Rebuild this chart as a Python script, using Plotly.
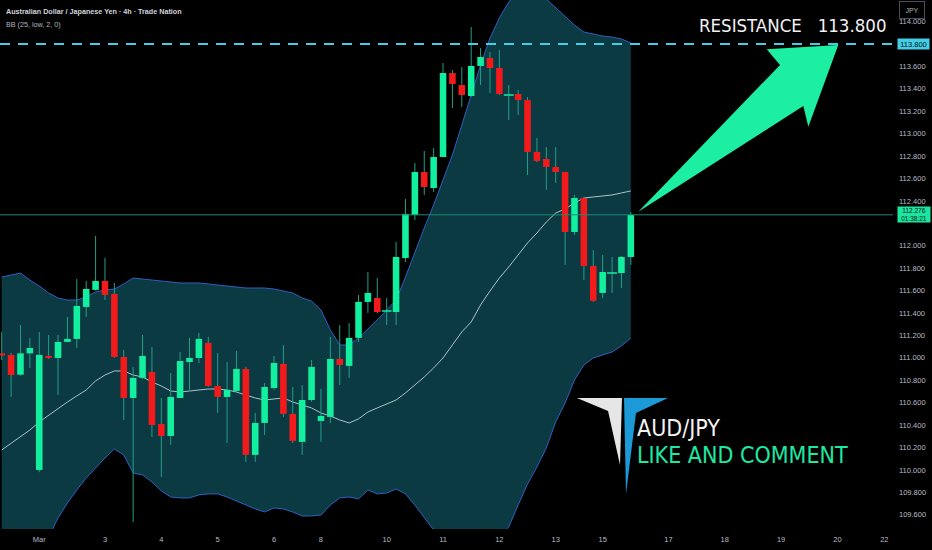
import plotly.graph_objects as go

# ---------------- data ----------------
bar_index = list(range(68))

opens = [111.04, 111.026, 110.85, 111.04, 110.00, 111.017, 110.999, 111.142, 111.169, 111.454,
         111.606, 111.686, 111.57, 111.008, 110.642, 110.821, 110.874, 110.41, 110.303, 110.642,
         110.963, 110.999, 111.133, 110.749, 110.651, 110.705, 110.901, 110.134, 110.419, 110.731,
         110.946, 110.50, 110.25, 110.624, 110.437, 110.473, 110.99, 110.928, 111.178, 111.499,
         111.534, 111.418, 111.409, 111.891, 112.275, 112.658, 112.515, 112.792, 113.541, 113.434,
         113.336, 113.604, 113.675, 113.586, 113.345, 113.354, 113.30, 112.837, 112.774, 112.703,
         112.658, 112.123, 112.426, 111.82, 111.579, 111.757, 111.757, 111.90]
highs = [111.23, 111.044, 111.293, 111.178, 111.23, 111.204, 111.204, 111.365, 111.704, 111.686,
         112.087, 111.891, 111.668, 111.07, 110.919, 111.204, 111.097, 110.642, 110.865, 111.053,
         111.178, 111.222, 111.187, 111.044, 110.963, 111.062, 110.92, 110.509, 110.776, 111.017,
         111.115, 110.74, 110.758, 110.981, 110.723, 111.187, 111.293, 111.311, 111.561, 111.766,
         111.713, 111.534, 112.034, 112.417, 112.739, 112.846, 112.872, 113.63, 113.568, 113.595,
         113.952, 113.764, 113.729, 113.746, 113.434, 113.39, 113.327, 112.962, 112.881, 112.881,
         112.66, 112.453, 112.435, 111.962, 111.918, 111.90, 111.91, 112.301]
lows = [110.98, 110.651, 110.84, 110.91, 109.98, 110.99, 110.669, 111.14, 111.088, 111.365,
        111.60, 111.516, 111.00, 110.446, 109.536, 110.81, 110.294, 109.938, 110.223, 110.64,
        110.714, 110.954, 110.74, 110.509, 110.241, 110.69, 110.071, 110.071, 110.312, 110.714,
        110.473, 110.24, 110.134, 110.61, 110.25, 110.419, 110.758, 110.821, 111.142, 111.401,
        111.40, 111.293, 111.293, 111.855, 112.23, 112.453, 112.48, 112.79, 113.229, 113.238,
        113.33, 113.434, 113.363, 113.345, 113.122, 113.167, 112.631, 112.747, 112.498, 112.56,
        111.829, 112.096, 111.695, 111.499, 111.534, 111.579, 111.624, 111.829]
closes = [111.02, 110.847, 111.04, 111.088, 111.026, 111.004, 111.142, 111.169, 111.463, 111.615,
          111.686, 111.561, 111.008, 110.642, 110.821, 111.017, 110.401, 110.303, 110.651, 110.972,
          110.999, 111.169, 110.749, 110.651, 110.714, 110.901, 110.134, 110.419, 110.74, 110.954,
          110.50, 110.259, 110.624, 110.919, 110.482, 110.99, 110.937, 111.178, 111.499, 111.579,
          111.409, 111.418, 111.90, 112.284, 112.658, 112.524, 112.792, 113.541, 113.443, 113.345,
          113.604, 113.684, 113.586, 113.354, 113.345, 113.30, 112.837, 112.756, 112.703, 112.658,
          112.123, 112.426, 111.82, 111.508, 111.766, 111.757, 111.90, 112.276]

bb_upper = [111.721, 111.739, 111.757, 111.694, 111.641, 111.579, 111.534, 111.516, 111.516, 111.543,
            111.588, 111.605, 111.614, 111.659, 111.712, 111.703, 111.694, 111.686, 111.677, 111.668,
            111.668, 111.668, 111.659, 111.650, 111.641, 111.632, 111.623, 111.623, 111.623, 111.614,
            111.596, 111.579, 111.534, 111.507, 111.427, 111.249, 111.115, 111.115, 111.177, 111.257,
            111.338, 111.427, 111.516, 111.721, 111.944, 112.158, 112.364, 112.587, 112.810, 113.077,
            113.345, 113.613, 113.853, 114.032, 114.175, 114.264, 114.282, 114.264, 114.201, 114.121,
            114.041, 113.969, 113.907, 113.889, 113.871, 113.862, 113.845, 113.809]
bb_mid = [110.178, 110.240, 110.294, 110.356, 110.428, 110.490, 110.544, 110.606, 110.660, 110.713,
          110.794, 110.847, 110.883, 110.883, 110.847, 110.829, 110.785, 110.749, 110.704, 110.695,
          110.704, 110.713, 110.722, 110.722, 110.713, 110.695, 110.669, 110.642, 110.624, 110.633,
          110.642, 110.606, 110.580, 110.553, 110.508, 110.481, 110.446, 110.419, 110.455, 110.517,
          110.553, 110.588, 110.624, 110.687, 110.758, 110.829, 110.910, 110.999, 111.115, 111.231,
          111.320, 111.472, 111.596, 111.712, 111.811, 111.918, 112.025, 112.114, 112.212, 112.292,
          112.328, 112.381, 112.426, 112.435, 112.444, 112.453, 112.471, 112.489]
bb_lower = [108.661, 108.751, 108.840, 109.018, 109.215, 109.402, 109.571, 109.705, 109.821, 109.928,
            110.017, 110.107, 110.187, 110.133, 109.973, 109.955, 109.893, 109.812, 109.759, 109.750,
            109.750, 109.777, 109.786, 109.786, 109.759, 109.723, 109.687, 109.652, 109.625, 109.661,
            109.652, 109.625, 109.589, 109.589, 109.598, 109.687, 109.750, 109.759, 109.741, 109.821,
            109.786, 109.794, 109.830, 109.786, 109.687, 109.580, 109.464, 109.375, 109.357, 109.330,
            109.304, 109.304, 109.330, 109.402, 109.491, 109.687, 109.875, 110.026, 110.196, 110.428,
            110.597, 110.802, 110.936, 110.999, 111.025, 111.052, 111.106, 111.177]

x_tick_pos = [4, 11, 17, 23, 29, 34, 41, 47, 53, 59, 64, 71, 77, 83, 89, 94]
x_tick_text = ["Mar", "3", "4", "5", "6", "8", "10", "11", "12", "13", "15", "17", "18", "19", "20", "22"]
# 113.800 and 112.200 are covered by the price labels in the reference
price_ticks = [109.6, 109.8, 110.0, 110.2, 110.4, 110.6, 110.8, 111.0, 111.2, 111.4, 111.6, 111.8,
               112.0, 112.4, 112.6, 112.8, 113.0, 113.2, 113.4, 113.6, 114.0]
resistance = 113.800
last_price = closes[-1]
countdown = "01:38:21"
title_text = "Australian Dollar / Japanese Yen · 4h · Trade Nation"
indicator_text = "BB (25, low, 2, 0)"

# ---------------- styling ----------------
GREEN = "#12ef9f"
RED = "#f21a1a"
WICK = "#239f88"
BAND_FILL = "#0b3a42"
BAND_LINE = "#2f5fc0"
MID_LINE = "#a9c3c6"
ARROW = "#1cefa2"
CYAN = "#43cde6"
SMALL = "Liberation Sans, Arial, sans-serif"
COND = "DejaVu Sans Condensed, DejaVu Sans, sans-serif"

X_RANGE = [-0.18, 94.92]
Y_RANGE = [109.473, 114.1925]
PW, PH = 893.0, 529.0  # plot area size in px (for decoration placement)


def px(xp, yp):
    return xp / PW, 1 - yp / PH


fig = go.Figure()

# Bollinger bands (base subplot, drawn below the candles)
fig.add_trace(go.Scatter(x=bar_index, y=bb_lower, mode="lines",
                         line=dict(color=BAND_LINE, width=1), hoverinfo="skip"))
fig.add_trace(go.Scatter(x=bar_index, y=bb_upper, mode="lines", fill="tonexty",
                         fillcolor=BAND_FILL, line=dict(color=BAND_LINE, width=1), hoverinfo="skip"))
fig.add_trace(go.Scatter(x=bar_index, y=bb_mid, mode="lines",
                         line=dict(color=MID_LINE, width=1), hoverinfo="skip"))

# wicks (overlay subplot 2)
wx, wy = [], []
for i in bar_index:
    wx += [i, i, None]
    wy += [lows[i], highs[i], None]
fig.add_trace(go.Scatter(x=wx, y=wy, mode="lines", yaxis="y2",
                         line=dict(color=WICK, width=1), hoverinfo="skip"))

# bodies (overlay subplot 3)
bases = [min(o, c) for o, c in zip(opens, closes)]
sizes = [abs(c - o) for o, c in zip(opens, closes)]
colors = [GREEN if c >= o else RED for o, c in zip(opens, closes)]
fig.add_trace(go.Bar(x=bar_index, y=sizes, base=bases, width=0.7, yaxis="y3",
                     marker=dict(color=colors, line=dict(width=0)), hoverinfo="skip"))
doji_x = [i for i in bar_index if abs(closes[i] - opens[i]) < 0.002]
doji_y = [opens[i] for i in doji_x]
fig.add_trace(go.Scatter(x=doji_x, y=doji_y, mode="markers", yaxis="y3",
                         marker=dict(symbol="line-ew", size=7, line=dict(width=1.5, color=GREEN)),
                         hoverinfo="skip"))

# ---------------- shapes ----------------
shapes = []
shapes.append(dict(type="line", xref="paper", yref="y", x0=0, x1=1, y0=last_price, y1=last_price,
                   line=dict(color="#1d8a78", width=1), layer="above"))
shapes.append(dict(type="line", xref="paper", yref="y", x0=0, x1=1.004, y0=resistance, y1=resistance,
                   line=dict(color=CYAN, width=2, dash="10px,8px"), layer="above"))


def poly(points):
    parts = []
    for k, (a, b) in enumerate(points):
        xa, yb = px(a, b)
        parts.append(("M" if k == 0 else "L") + f"{xa:.4f},{yb:.4f}")
    return " ".join(parts) + " Z"


arrow_pts = [(638.3, 211.7), (780.0, 65.0), (766.7, 49.3), (838.3, 45.0), (808.3, 126.7), (803.3, 106.0)]
shapes.append(dict(type="path", xref="paper", yref="paper", path=poly(arrow_pts),
                   fillcolor=ARROW, line=dict(width=0), layer="above"))
logo_white = [(577, 398), (622, 398), (620, 465), (608, 411)]
logo_blue = [(624, 398), (668, 398), (636, 413), (626, 494)]
shapes.append(dict(type="path", xref="paper", yref="paper", path=poly(logo_white),
                   fillcolor="#e6e6e6", line=dict(width=0), layer="above"))
shapes.append(dict(type="path", xref="paper", yref="paper", path=poly(logo_blue),
                   fillcolor="#1c9ad8", line=dict(width=0), layer="above"))

# ---------------- annotations ----------------
ann = []
ann.append(dict(xref="paper", yref="paper", x=px(4, 0)[0], y=px(0, 12)[1], xanchor="left", yanchor="middle",
                text=f"<b>{title_text}</b>", showarrow=False,
                font=dict(family=SMALL, size=7.2, color="#d1d4dc")))
ann.append(dict(xref="paper", yref="paper", x=px(4, 0)[0], y=px(0, 24.5)[1], xanchor="left", yanchor="middle",
                text=indicator_text, showarrow=False,
                font=dict(family=SMALL, size=7.2, color="#b2b5be")))
ann.append(dict(xref="paper", yref="paper", x=px(888, 0)[0], y=px(0, 25)[1], xanchor="right", yanchor="middle",
                text="RESISTANCE   113.800", showarrow=False,
                font=dict(family=COND, size=18.5, color="#f2f2f2")))
ann.append(dict(xref="paper", yref="paper", x=px(635, 0)[0], y=px(0, 428)[1], xanchor="left", yanchor="middle",
                text="AUD/JPY", showarrow=False,
                font=dict(family=COND, size=23, color="#f2f2f2")))
ann.append(dict(xref="paper", yref="paper", x=px(635, 0)[0], y=px(0, 455)[1], xanchor="left", yanchor="middle",
                text="LIKE AND COMMENT", showarrow=False,
                font=dict(family=COND, size=23, color="#1de9a0")))
# price-axis labels
ann.append(dict(xref="paper", yref="y", x=1, xshift=4, y=resistance, xanchor="left", yanchor="middle",
                text=f"{resistance:.3f}", showarrow=False, bgcolor=CYAN, width=31, height=10, borderpad=0,
                font=dict(family=SMALL, size=7.5, color="#061014")))
ann.append(dict(xref="paper", yref="y", x=1, xshift=4, y=last_price, xanchor="left", yanchor="middle",
                text=f"{last_price:.3f}<br>{countdown}", showarrow=False, bgcolor="#1ae6a0", width=32, height=15,
                borderpad=0, font=dict(family=SMALL, size=6.5, color="#061410")))
ann.append(dict(xref="paper", yref="paper", x=899 / PW, y=1 - 1 / PH, xanchor="left", yanchor="top",
                text="JPY", showarrow=False, bgcolor="#000000", bordercolor="#4a4e5a", borderwidth=1,
                width=24, height=16, borderpad=0, font=dict(family=SMALL, size=7, color="#b2b5be")))

fig.update_layout(
    width=932, height=550,
    margin=dict(l=0, r=39, t=0, b=21),
    paper_bgcolor="#000000", plot_bgcolor="#000000",
    showlegend=False, hovermode=False,
    shapes=shapes, annotations=ann,
    xaxis=dict(range=X_RANGE, tickmode="array", tickvals=x_tick_pos, ticktext=x_tick_text,
               showgrid=False, zeroline=False, showline=False, ticks="", ticklabelstandoff=4,
               tickfont=dict(family=SMALL, size=7.5, color="#b8bcc6"), fixedrange=True),
    yaxis=dict(range=Y_RANGE, side="right", tickmode="array", tickvals=price_ticks, tickformat=".3f",
               showgrid=False, zeroline=False, showline=False, ticks="", ticklabelstandoff=5,
               tickfont=dict(family=SMALL, size=7.5, color="#b8bcc6"), fixedrange=True),
    yaxis2=dict(range=Y_RANGE, overlaying="y", visible=False, fixedrange=True),
    yaxis3=dict(range=Y_RANGE, overlaying="y", visible=False, fixedrange=True),
)

fig.write_html("out.html", config={"displayModeBar": False},
               post_script="document.body.style.margin='0px';document.documentElement.style.overflow='hidden';")
